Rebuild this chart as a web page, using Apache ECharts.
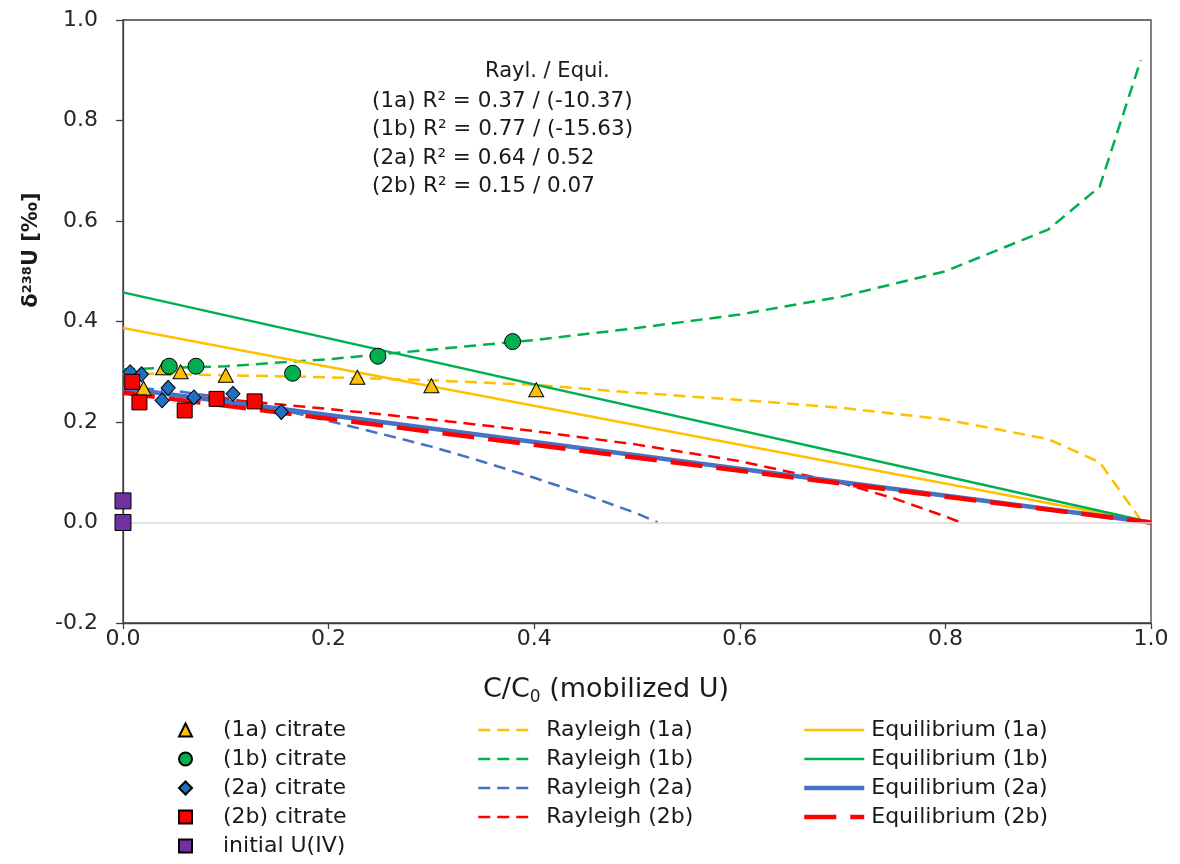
<!DOCTYPE html>
<html>
<head>
<meta charset="utf-8">
<script src="https://cdn.jsdelivr.net/npm/echarts@6/dist/echarts.min.js"></script>
<style>
  html, body { margin: 0; padding: 0; background: #ffffff; }
  #chart { width: 1180px; height: 864px; }
</style>
</head>
<body>
<div id="chart"></div>
<script>
// ---- measured data: delta-238U vs. mobilized fraction C/C0 ----
const pts1a = [[0.020, 0.267], [0.039, 0.308], [0.056, 0.300], [0.100, 0.293], [0.228, 0.289], [0.300, 0.272], [0.402, 0.264]];
const pts1b = [[0.045, 0.311], [0.071, 0.311], [0.165, 0.297], [0.248, 0.331], [0.379, 0.360]];
const pts2a = [[0.007, 0.299], [0.018, 0.295], [0.044, 0.268], [0.038, 0.243], [0.069, 0.249], [0.107, 0.256], [0.154, 0.220]];
const pts2b = [[0.009, 0.280], [0.016, 0.239], [0.060, 0.223], [0.091, 0.246], [0.128, 0.241]];
const ptsInitial = [[0, 0.043], [0, 0.0]];

// ---- Rayleigh model curves ----
const ray1X = [0, 0.1, 0.2, 0.3, 0.4, 0.5, 0.6, 0.7, 0.8, 0.9, 0.95, 0.99];
const ray1aY = [0.297, 0.293, 0.289, 0.283, 0.274, 0.258, 0.244, 0.228, 0.205, 0.166, 0.120, 0.005];
const ray1bY = [0.305, 0.311, 0.325, 0.344, 0.363, 0.387, 0.414, 0.450, 0.500, 0.583, 0.668, 0.920];
const ray2aX = [0, 0.05, 0.1, 0.15, 0.2, 0.25, 0.3, 0.35, 0.4, 0.45, 0.5, 0.52];
const ray2aY = [0.270, 0.262, 0.248, 0.226, 0.202, 0.177, 0.151, 0.121, 0.089, 0.055, 0.018, 0.0];
const ray2bX = [0, 0.1, 0.2, 0.3, 0.4, 0.5, 0.6, 0.7, 0.75, 0.8, 0.815];
const ray2bY = [0.262, 0.245, 0.226, 0.205, 0.182, 0.155, 0.122, 0.078, 0.048, 0.012, 0.0];

// ---- equilibrium model lines ----
const eq1X = [0, 0.99];
const eq1aY = [0.387, 0.004];
const eq1bY = [0.458, 0.005];
const eq2X = [0, 1];
const eq2aY = [0.267, 0.0];
const eq2bY = [0.258, 0.0];

// ---- axes ----
const xRange = [0, 1.0, 0.2];
const yRange = [-0.2, 1.0, 0.2];

// ---- texts ----
const fitHeader = 'Rayl. / Equi.';
const fitLines = [
  '(1a) R\u00B2 = 0.37 / (-10.37)',
  '(1b) R\u00B2 = 0.77 / (-15.63)',
  '(2a) R\u00B2 = 0.64 / 0.52',
  '(2b) R\u00B2 = 0.15 / 0.07'
];
const pointNames = ['(1a) citrate', '(1b) citrate', '(2a) citrate', '(2b) citrate', 'initial U(IV)'];
const rayleighNames = ['Rayleigh (1a)', 'Rayleigh (1b)', 'Rayleigh (2a)', 'Rayleigh (2b)'];
const equiNames = ['Equilibrium (1a)', 'Equilibrium (1b)', 'Equilibrium (2a)', 'Equilibrium (2b)'];

const C = { y: '#FFC000', g: '#00B050', b: '#4472C4', db: '#1F70C1', r: '#FF0000', p: '#7030A0' };
const FONT = 'DejaVu Sans';
const TXT = '#1a1a1a';
const RAY_DASH = [12, 7];
const EQ_DASH = [32, 14];

const zip = (xs, ys) => xs.map((x, i) => [x, ys[i]]);

function rayleigh(name, xs, ys, color) {
  return {
    name, type: 'line', data: zip(xs, ys), symbol: 'none', smooth: false, z: 2,
    lineStyle: { color, width: 2.5, type: RAY_DASH }, itemStyle: { color }
  };
}
function equi(name, xs, ys, color, width, type) {
  return {
    name, type: 'line', data: zip(xs, ys), symbol: 'none', z: 2,
    lineStyle: { color, width, type }, itemStyle: { color }
  };
}
function pts(name, data, symbol, size, color) {
  return {
    name, type: 'scatter', data, symbol, symbolSize: size, z: 5,
    itemStyle: { color, borderColor: '#000000', borderWidth: 1, opacity: 1 }
  };
}

const series = [
  {
    name: 'zero', type: 'line', data: [], silent: true, z: 1,
    markLine: {
      silent: true, symbol: 'none', label: { show: false },
      lineStyle: { color: '#d9d9d9', width: 1.5, type: 'solid' },
      data: [{ yAxis: 0 }], animation: false
    }
  },
  rayleigh(rayleighNames[0], ray1X, ray1aY, C.y),
  rayleigh(rayleighNames[1], ray1X, ray1bY, C.g),
  rayleigh(rayleighNames[2], ray2aX, ray2aY, C.b),
  rayleigh(rayleighNames[3], ray2bX, ray2bY, C.r),
  equi(equiNames[0], eq1X, eq1aY, C.y, 2.5, 'solid'),
  equi(equiNames[1], eq1X, eq1bY, C.g, 2.5, 'solid'),
  equi(equiNames[2], eq2X, eq2aY, C.b, 4.5, 'solid'),
  equi(equiNames[3], eq2X, eq2bY, C.r, 4.5, EQ_DASH),
  pts(pointNames[0], pts1a, 'triangle', [15, 14], C.y),
  pts(pointNames[1], pts1b, 'circle', 16, C.g),
  pts(pointNames[2], pts2a, 'diamond', [14, 15], C.db),
  pts(pointNames[3], pts2b, 'rect', 15, C.r),
  pts(pointNames[4], ptsInitial, 'rect', 16, C.p)
];

const axisCommon = {
  type: 'value',
  axisLine: { show: true, onZero: false, lineStyle: { color: '#404040', width: 1.3 } },
  axisTick: { show: true, inside: false, lineStyle: { color: '#404040', width: 1.3 } },
  splitLine: { show: false },
  axisLabel: { color: '#262626', fontFamily: FONT, fontSize: 22, formatter: v => v.toFixed(1) }
};

function legendBlock(data, left, itemWidth, pad, hideSymbol) {
  const block = {
    data, orient: 'vertical', left, top: 719, itemGap: 7, padding: 0,
    itemWidth, itemHeight: 13, selectedMode: false,
    textStyle: { fontFamily: FONT, fontSize: 22, color: TXT, lineHeight: 22, padding: [0, 0, 0, pad] }
  };
  if (hideSymbol) block.itemStyle = { opacity: 0 };
  return block;
}

const rayLegend = rayleighNames.map((name, i) => ({
  name, lineStyle: { width: 2.5, type: RAY_DASH, color: [C.y, C.g, C.b, C.r][i] }
}));
const equiLegend = equiNames.map((name, i) => ({
  name,
  lineStyle: {
    width: [2.5, 2.5, 4.5, 4.5][i],
    type: i === 3 ? EQ_DASH : 'solid',
    color: [C.y, C.g, C.b, C.r][i]
  }
}));

const graphic = [
  {
    type: 'text', x: 32, y: 250, rotation: Math.PI / 2,
    style: {
      text: '{a|\u03B4}{s|238}{a|U [\u2030]}',
      align: 'center', verticalAlign: 'middle', fill: TXT,
      rich: {
        a: { fontFamily: FONT, fontSize: 21, fontWeight: 'bold', lineHeight: 26, fill: TXT },
        s: { fontFamily: FONT, fontSize: 13, fontWeight: 'bold', lineHeight: 26, verticalAlign: 'top', fill: TXT, padding: [2, 0, 0, 0] }
      }
    }
  },
  {
    type: 'text', x: 606, y: 690,
    style: {
      text: '{a|C/C}{s|0}{a| (mobilized U)}',
      align: 'center', verticalAlign: 'middle', fill: TXT,
      rich: {
        a: { fontFamily: FONT, fontSize: 27, lineHeight: 32, fill: TXT },
        s: { fontFamily: FONT, fontSize: 17, lineHeight: 32, verticalAlign: 'bottom', fill: TXT }
      }
    }
  },
  {
    type: 'text', x: 485, y: 72,
    style: { text: fitHeader, font: '21px "DejaVu Sans"', fill: TXT, verticalAlign: 'middle' }
  }
].concat(fitLines.map((t, i) => ({
  type: 'text', x: 372, y: 101 + i * 28.6,
  style: { text: t, font: '21.5px "DejaVu Sans"', fill: TXT, verticalAlign: 'middle' }
})));

const chart = echarts.init(document.getElementById('chart'), null, { renderer: 'canvas' });
chart.setOption({
  animation: false,
  backgroundColor: '#ffffff',
  grid: { left: 123, right: 29, top: 20, bottom: 241, show: true, borderColor: '#404040', borderWidth: 1.3, backgroundColor: 'transparent' },
  xAxis: Object.assign({}, axisCommon, {
    min: xRange[0], max: xRange[1], interval: xRange[2], position: 'bottom',
    axisTick: Object.assign({}, axisCommon.axisTick, { length: 6 }),
    axisLabel: Object.assign({}, axisCommon.axisLabel, { margin: 5 })
  }),
  yAxis: Object.assign({}, axisCommon, {
    min: yRange[0], max: yRange[1], interval: yRange[2], position: 'left',
    axisTick: Object.assign({}, axisCommon.axisTick, { length: 7 }),
    axisLabel: Object.assign({}, axisCommon.axisLabel, { margin: 25 })
  }),
  legend: [
    legendBlock(pointNames, 178, 13, 26, false),
    legendBlock(rayLegend, 477, 55, 8, true),
    legendBlock(equiLegend, 802, 60, 2, true)
  ],
  graphic,
  series
});
</script>
</body>
</html>
